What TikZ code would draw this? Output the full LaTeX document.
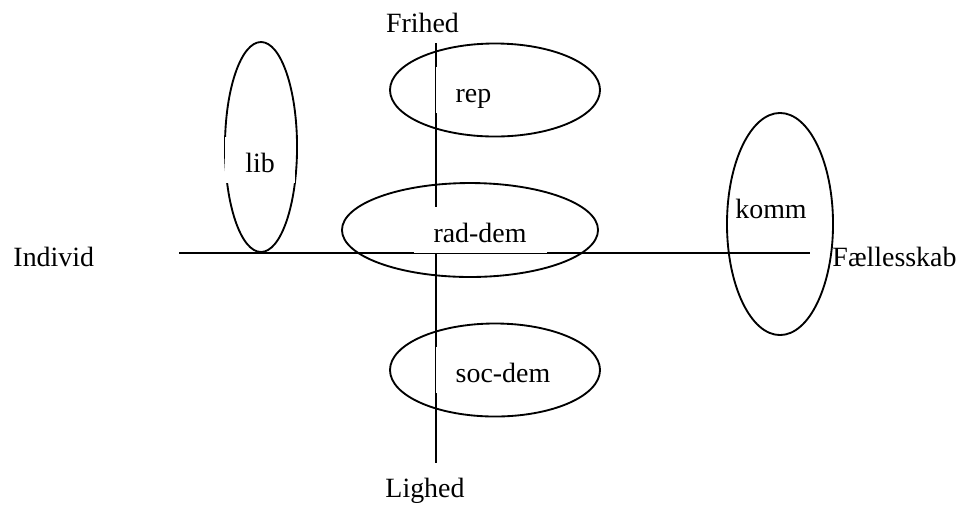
\documentclass[tikz,border=0pt]{standalone}
\usepackage{fontspec}
\setmainfont{Liberation Serif}
\usetikzlibrary{shapes.geometric}

\tikzset{
	blob/.style={draw, ellipse, line width=0.8pt, inner sep=0pt},
	tag/.style={anchor=base, fill=white, inner xsep=8.6pt, inner ysep=0pt,
		text height=15pt, text depth=4.7pt},
	axislbl/.style={anchor=base, inner sep=0pt}
}

\begin{document}
\begin{tikzpicture}[x=0.43pt, y=-0.43pt, font=\fontsize{12}{14}\selectfont]
		\useasboundingbox (0, 0) rectangle (958, 504);

		% axes
		\coordinate (west) at (179, 253);
		\coordinate (east) at (810, 253);
		\coordinate (north) at (436, 43);
		\coordinate (south) at (436, 463);
		\draw [line width=0.9pt] (west) -- (east);
		\draw [line width=0.9pt] (north) -- (south);

		\node [axislbl] (frihed) at (422.5, 32) {Frihed};
		\node [axislbl] (lighed) at (425, 497) {Lighed};
		\node [axislbl, anchor=base west] (individ) at (13, 266) {Individ};
		\node [axislbl, anchor=base west] (faelles) at (832, 266) {Fællesskab};

		% parties
		\node [blob, minimum width=31pt, minimum height=90.3pt] (libE) at (261, 147) {};
		\node [blob, minimum width=90.3pt, minimum height=40pt] (repE) at (495, 90) {};
		\node [blob, minimum width=110.1pt, minimum height=40.4pt] (radE) at (470, 230) {};
		\node [blob, minimum width=90.3pt, minimum height=40pt] (socE) at (495, 370) {};
		\node [blob, minimum width=45.6pt, minimum height=95.5pt] (kommE) at (780, 224) {};

		\node [tag] (lib) at (260, 172) {lib};
		\node [tag] (rep) at (473.5, 102) {rep};
		\node [tag] (rad) at (480, 242) {rad-dem};
		\node [tag] (soc) at (503, 382) {soc-dem};
		\node [axislbl] (komm) at (771, 218) {komm};
	\end{tikzpicture}
\end{document}
